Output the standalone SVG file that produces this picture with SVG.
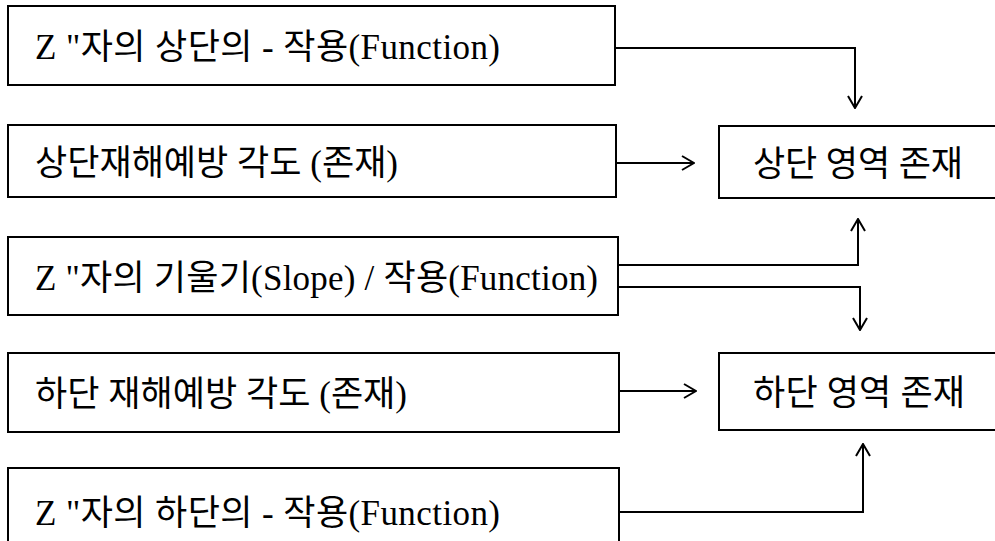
<svg xmlns="http://www.w3.org/2000/svg" width="995" height="541" viewBox="0 0 995 541">
  <style>
    .box { fill: #fff; stroke: #000; stroke-width: 2; }
    .lbl { font-family: "Liberation Serif", "Noto Sans CJK KR", serif; font-size: 35px; fill: #000; }
    .wire { fill: none; stroke: #000; stroke-width: 2; }
    .arr { marker-end: url(#open); }
  </style>
  <defs>
    <!-- open V arrowhead shared by every connector -->
    <marker id="open" viewBox="0 0 14 16" refX="13" refY="8" markerWidth="14" markerHeight="16" markerUnits="userSpaceOnUse" orient="auto">
      <path d="M1,1 L13,8 L1,15" fill="none" stroke="#000" stroke-width="2"/>
    </marker>
  </defs>
  <rect width="995" height="541" fill="#fff"/>

  <g id="node-top-action">
    <rect class="box" x="8" y="6" width="607" height="79"/>
    <text class="lbl" x="35" y="59" textLength="465" lengthAdjust="spacing">Z "자의 상단의 - 작용(Function)</text>
  </g>
  <g id="node-top-angle">
    <rect class="box" x="8" y="125" width="608" height="72"/>
    <text class="lbl" x="35" y="175" textLength="363" lengthAdjust="spacing">상단재해예방 각도 (존재)</text>
  </g>
  <g id="node-top-region">
    <rect class="box" x="719" y="126" width="290" height="72"/>
    <text class="lbl" x="753" y="176" textLength="210" lengthAdjust="spacing">상단 영역 존재</text>
  </g>
  <g id="node-slope">
    <rect class="box" x="8" y="237" width="610" height="78"/>
    <text class="lbl" x="35" y="290" textLength="563" lengthAdjust="spacing">Z "자의 기울기(Slope) / 작용(Function)</text>
  </g>
  <g id="node-bottom-angle">
    <rect class="box" x="8" y="353" width="611" height="79"/>
    <text class="lbl" x="35" y="406" textLength="372" lengthAdjust="spacing">하단 재해예방 각도 (존재)</text>
  </g>
  <g id="node-bottom-region">
    <rect class="box" x="719" y="353" width="290" height="77"/>
    <text class="lbl" x="753" y="405" textLength="212" lengthAdjust="spacing">하단 영역 존재</text>
  </g>
  <g id="node-bottom-action">
    <rect class="box" x="8" y="468" width="611" height="80"/>
    <text class="lbl" x="35" y="525" textLength="465" lengthAdjust="spacing">Z "자의 하단의 - 작용(Function)</text>
  </g>

  <g id="connectors">
    <path class="wire arr" d="M615,48 H855 V108"/>
    <path class="wire arr" d="M616,163 H694"/>
    <path class="wire arr" d="M618,265 H858 V219"/>
    <path class="wire arr" d="M618,287 H860 V330"/>
    <path class="wire arr" d="M619,391 H696"/>
    <path class="wire arr" d="M619,512 H863 V444"/>
  </g>
</svg>
